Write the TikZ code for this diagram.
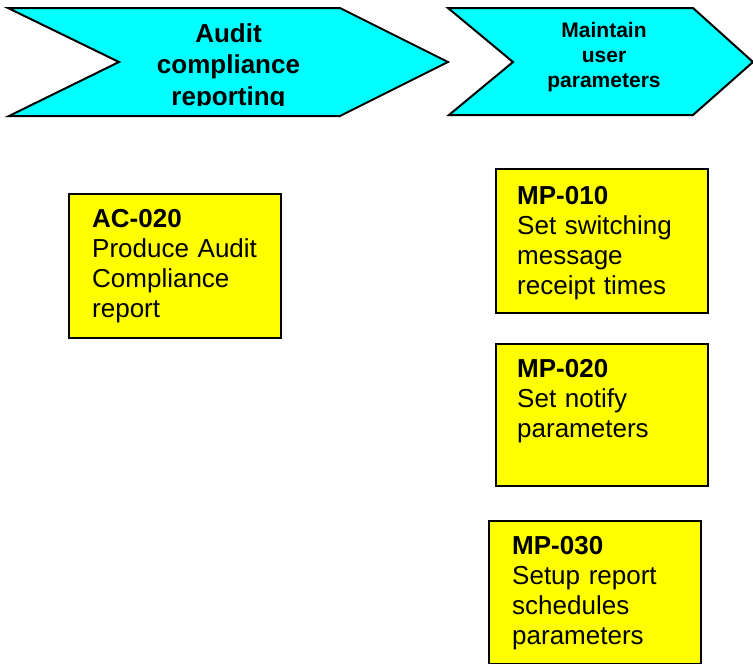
\documentclass[tikz,border=0pt]{standalone}
\usepackage{fontspec}
\setmainfont{Liberation Sans}
\definecolor{chevfill}{HTML}{00FFFF}
\definecolor{boxfill}{HTML}{FFFF00}
\begin{document}
\begin{tikzpicture}[x=1pt,y=-1pt,
  chev/.style={draw=black,fill=chevfill,line width=2pt,line join=miter},
  ybox/.style={draw=black,fill=boxfill,line width=2pt,inner sep=0pt,
    minimum width=212pt,anchor=north west},
  boxtext/.style={anchor=north west,inner sep=0pt,text width=190pt,align=left,
    font=\fontsize{26}{30}\selectfont},
  headbig/.style={anchor=north,inner sep=0pt,align=center,
    font=\fontsize{26}{31.5}\selectfont\bfseries},
  headsmall/.style={anchor=north,inner sep=0pt,align=center,
    font=\fontsize{21}{25}\selectfont\bfseries}]
\useasboundingbox (0,0) rectangle (753,664);

% process chevrons
\draw[chev] (8,8) -- (340,8) -- (448,62) -- (340,116) -- (9,116) -- (119,62) -- cycle;
\draw[chev] (448,8) -- (693,8) -- (753,62) -- (693,115) -- (449,115) -- (513,62) -- cycle;

\begin{scope}
  \clip (0,0) rectangle (753,105.5);
  \node[headbig] (ac-head) at (228.5,23.4) {Audit\\compliance\\reporting};
\end{scope}
\node[headsmall] (mp-head) at (604,22) {Maintain\\user\\parameters};

% activity boxes
\node[ybox,minimum height=144pt] (ac020) at (68,193) {};
\node[boxtext] (ac020-t) at (92,209.4) {\textbf{AC-020}\\Produce Audit\\Compliance\\report};

\node[ybox,minimum height=144pt] (mp010) at (495,168) {};
\node[boxtext] (mp010-t) at (517,186.4) {\textbf{MP-010}\\Set switching\\message\\receipt times};

\node[ybox,minimum height=142pt] (mp020) at (495,343) {};
\node[boxtext] (mp020-t) at (517,359.4) {\textbf{MP-020}\\Set notify\\parameters};

\node[ybox,minimum height=143pt] (mp030) at (488,520) {};
\node[boxtext] (mp030-t) at (512,536.4) {\textbf{MP-030}\\Setup report\\schedules\\parameters};
\end{tikzpicture}
\end{document}
